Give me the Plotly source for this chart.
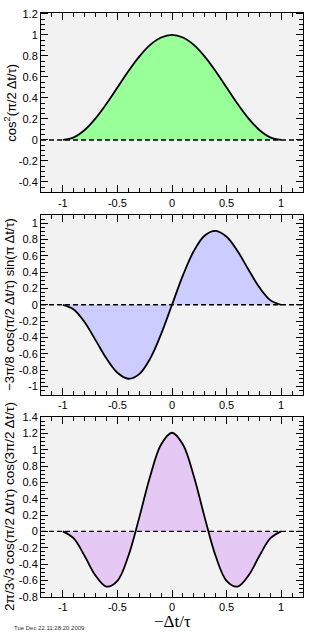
import plotly.graph_objects as go

# x values (-Δt/τ)
x_vals = [-1.0, -0.9, -0.8, -0.7, -0.6, -0.5, -0.4, -0.3, -0.2, -0.1, 0.0,
          0.1, 0.2, 0.3, 0.4, 0.5, 0.6, 0.7, 0.8, 0.9, 1.0]

# panel 1: cos^2 curve
y_top = [0.0, 0.025, 0.095, 0.206, 0.345, 0.5, 0.655, 0.794, 0.905, 0.975, 1.0,
         0.975, 0.905, 0.794, 0.655, 0.5, 0.345, 0.206, 0.095, 0.025, 0.0]

# panel 2: antisymmetric curve
y_mid = [0.0, -0.057, -0.214, -0.433, -0.659, -0.833, -0.906, -0.849, -0.659, -0.360, 0.0,
         0.360, 0.659, 0.849, 0.906, 0.833, 0.659, 0.433, 0.214, 0.057, 0.0]

# panel 3: symmetric curve with side lobes
y_bot = [0.0, -0.086, -0.302, -0.542, -0.676, -0.605, -0.302, 0.169, 0.676, 1.064, 1.209,
         1.064, 0.676, 0.169, -0.302, -0.605, -0.676, -0.542, -0.302, -0.086, 0.0]

x_ticks = [-1, -0.5, 0, 0.5, 1]
x_ticktext = ["-1", "-0.5", "0", "0.5", "1"]
y1_ticks = [-0.4, -0.2, 0, 0.2, 0.4, 0.6, 0.8, 1.0, 1.2]
y1_text = ["-0.4", "-0.2", "0", "0.2", "0.4", "0.6", "0.8", "1", "1.2"]
y2_ticks = [-1, -0.8, -0.6, -0.4, -0.2, 0, 0.2, 0.4, 0.6, 0.8, 1]
y2_text = ["-1", "-0.8", "-0.6", "-0.4", "-0.2", "0", "0.2", "0.4", "0.6", "0.8", "1"]
y3_ticks = [-0.8, -0.6, -0.4, -0.2, 0, 0.2, 0.4, 0.6, 0.8, 1.0, 1.2, 1.4]
y3_text = ["-0.8", "-0.6", "-0.4", "-0.2", "0", "0.2", "0.4", "0.6", "0.8", "1", "1.2", "1.4"]

y_titles = ["cos<sup>2</sup>(π/2 Δt/τ)",
            "−3π/8 cos(π/2 Δt/τ) sin(π Δt/τ)",
            "2π/3√3 cos(π/2 Δt/τ) cos(3π/2 Δt/τ)"]
y_title_sizes = [13, 13, 13.5]
x_title = "−Δt/τ"
stamp = "Tue Dec 22 11:28:20 2009"

W, H = 316, 640
xdom = [41 / W, 303 / W]
panels = [
    (y_top, "#99ff99", [-0.5, 1.21], y1_ticks, y1_text, (7, 190)),
    (y_mid, "#ccccff", [-1.1, 1.1], y2_ticks, y2_text, (213, 396)),
    (y_bot, "#e6c8f5", [-0.8, 1.4], y3_ticks, y3_text, (419, 602)),
]

fig = go.Figure()
font = dict(family="Liberation Sans, Arial, sans-serif", size=11, color="black")

for i, (yv, col, yr, yt, ytx, (pt, pb)) in enumerate(panels):
    n = "" if i == 0 else str(i + 1)
    xa, ya = "x" + n, "y" + n
    fig.add_trace(go.Scatter(x=x_vals, y=yv, mode="lines", fill="tozeroy",
                             fillcolor=col, line=dict(color="black", width=1.8, shape="spline"),
                             xaxis=xa, yaxis=ya, showlegend=False))
    # dashed zero line
    fig.add_trace(go.Scatter(x=[-1.2, 1.2], y=[0, 0], mode="lines",
                             line=dict(color="black", width=1.4, dash="5px,3px"),
                             xaxis=xa, yaxis=ya, showlegend=False, hoverinfo="skip"))
    common = dict(showline=True, linecolor="black", linewidth=1, mirror="allticks",
                  ticks="inside", ticklen=7, tickcolor="black", showgrid=False,
                  zeroline=False, tickfont=font)
    fig.layout["xaxis" + n] = dict(domain=xdom, range=[-1.2, 1.2], anchor=ya,
                                   tickvals=x_ticks, ticktext=x_ticktext,
                                   minor=dict(ticks="inside", dtick=0.1, tick0=0, ticklen=4,
                                              tickcolor="black", showgrid=False),
                                   **common)
    fig.layout["yaxis" + n] = dict(domain=[1 - pb / H, 1 - pt / H], range=yr, anchor=xa,
                                   tickvals=yt, ticktext=ytx,
                                   minor=dict(ticks="inside", dtick=0.05, tick0=0, ticklen=4,
                                              tickcolor="black", showgrid=False),
                                   **common)
    fig.add_annotation(text=y_titles[i], xref="paper", yref="paper",
                       x=10 / W, y=1 - (pt + pb) / 2 / H, textangle=-90,
                       showarrow=False, xanchor="center", yanchor="middle",
                       font=dict(family="Liberation Sans, Arial, sans-serif",
                                 size=y_title_sizes[i], color="black"))

fig.add_annotation(text=x_title, xref="paper", yref="paper", x=172 / W, y=1 - 627 / H,
                   showarrow=False, xanchor="center", yanchor="middle",
                   font=dict(family="Liberation Serif, Times New Roman, serif", size=17, color="black"))
fig.add_annotation(text=stamp, xref="paper", yref="paper", x=12 / W, y=1 - 634 / H,
                   showarrow=False, xanchor="left", yanchor="middle",
                   font=dict(family="Liberation Sans, Arial, sans-serif", size=6, color="#333333"))

fig.update_layout(width=W, height=H, autosize=False,
                  margin=dict(l=0, r=0, t=0, b=0, pad=0),
                  paper_bgcolor="white", plot_bgcolor="#f2f2f2")
fig.write_html("out.html")
